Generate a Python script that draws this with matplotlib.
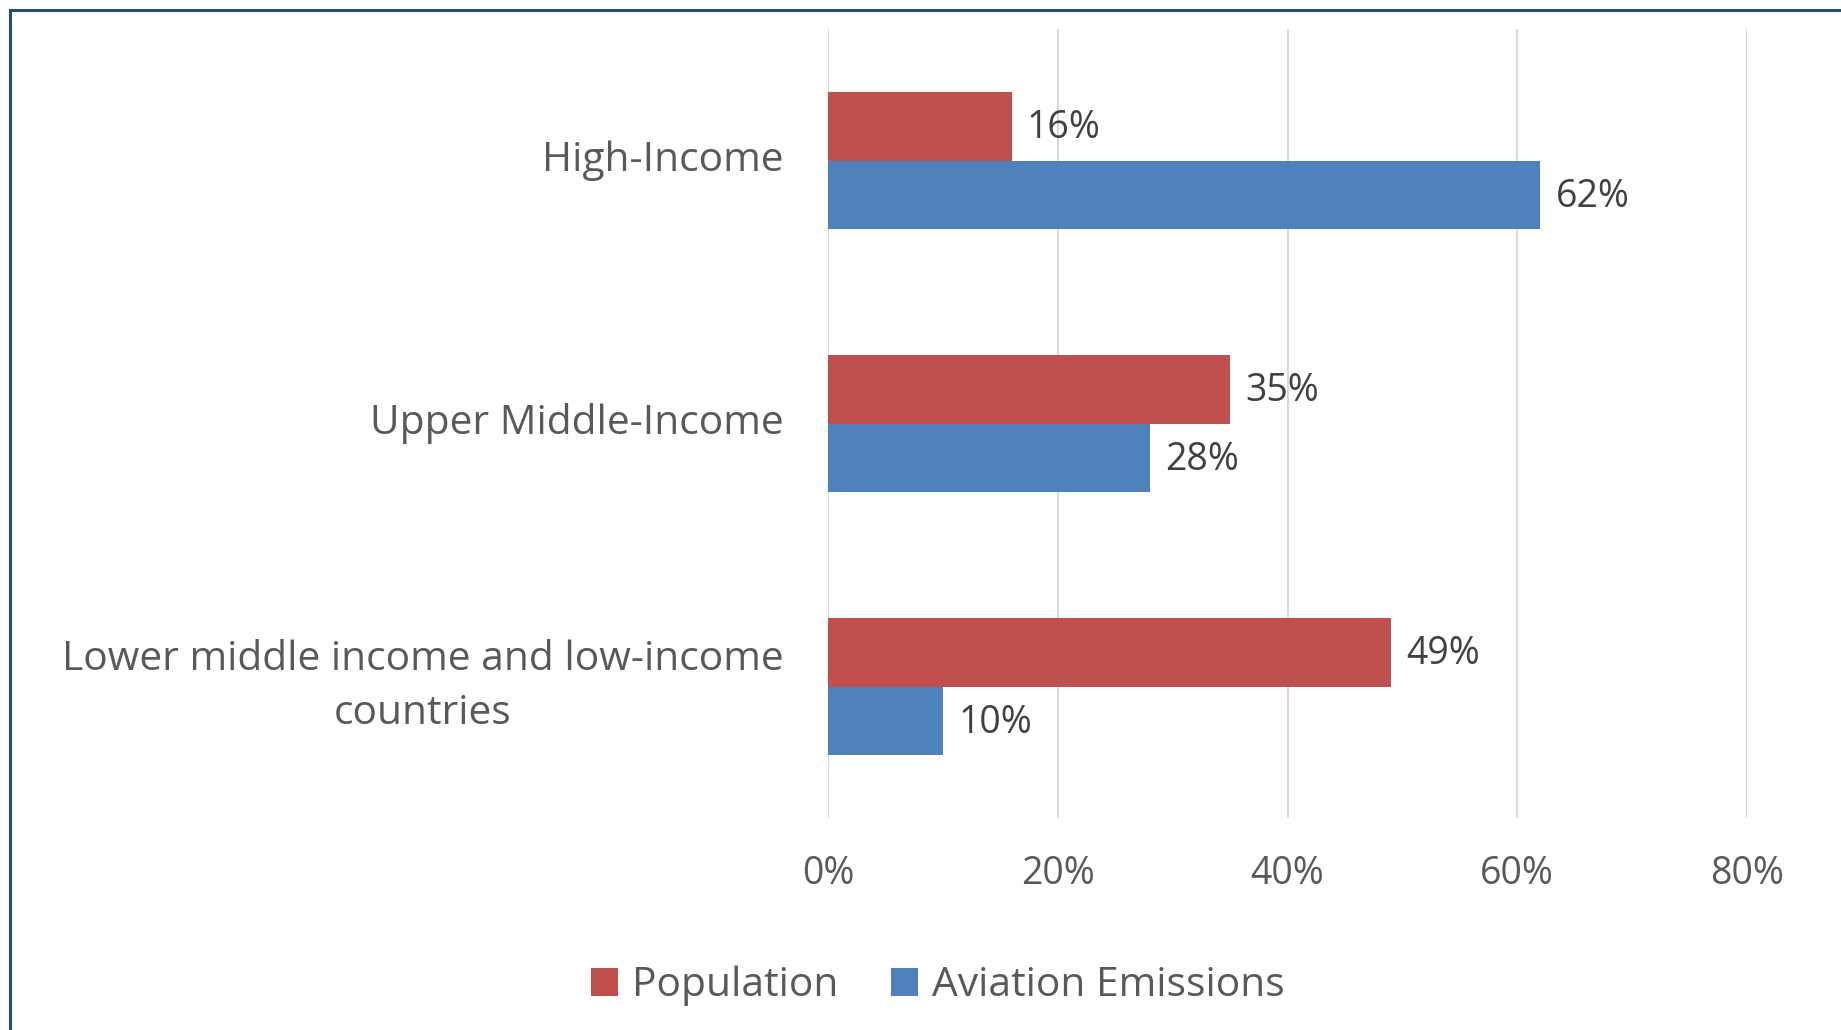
import matplotlib
matplotlib.use("Agg")
import matplotlib.pyplot as plt
from matplotlib.patches import Rectangle

plt.rcParams['font.family'] = ['Open Sans', 'DejaVu Sans']

categories = ["High-Income", "Upper Middle-Income",
              "Lower middle income and low-income\ncountries"]
population = [16, 35, 49]
aviation = [62, 28, 10]
series_names = ["Population", "Aviation Emissions"]
xticks = [0, 20, 40, 60, 80]
xtick_labels = ["0%", "20%", "40%", "60%", "80%"]

RED = "#C0504D"
BLUE = "#4F81BD"
TXT = "#595959"
LBL = "#404040"
GRID = "#D9D9D9"
FS_CAT = 29.3
FS_NUM = 27

fig = plt.figure(figsize=(18.41, 10.30), dpi=100)
ax = fig.add_axes([828 / 1841, 212 / 1030, 919 / 1841, 789 / 1030])

ypos = list(range(len(categories)))
h = 0.26
b1 = ax.barh([y - h / 2 for y in ypos], population, height=h, color=RED,
             label=series_names[0], zorder=3)
b2 = ax.barh([y + h / 2 for y in ypos], aviation, height=h, color=BLUE,
             label=series_names[1], zorder=3)

for bars, vals in ((b1, population), (b2, aviation)):
    for rect, v in zip(bars, vals):
        ax.annotate(f"{v}%", (rect.get_width(), rect.get_y() + rect.get_height() / 2),
                    xytext=(11, -1.5), textcoords="offset points",
                    va="center", ha="left", fontsize=FS_NUM, color=LBL)

ax.set_xlim(0, 80)
ax.set_ylim(2.5, -0.5)
ax.set_xticks(xticks)
ax.set_xticklabels(xtick_labels, fontsize=FS_NUM, color=TXT)
ax.set_yticks(ypos)
ax.set_yticklabels(categories, fontsize=FS_CAT, color=TXT)
for lab in ax.get_yticklabels():
    lab.set_multialignment("center")
    lab.set_linespacing(1.45)
    lab.set_verticalalignment("center")
ax.tick_params(axis="x", length=0, pad=27)
ax.tick_params(axis="y", length=0, pad=32)
for s in ax.spines.values():
    s.set_visible(False)
ax.grid(axis="x", color=GRID, linewidth=1.5, zorder=0)
ax.set_axisbelow(True)

leg = fig.legend(handles=[b1, b2], loc="center", bbox_to_anchor=(938 / 1841, 44 / 1030),
                 ncol=2, frameon=False, fontsize=FS_CAT, handlelength=0.65, handleheight=0.65,
                 handletextpad=0.35, columnspacing=1.3, labelcolor=TXT)

# outer frame of the chart area
fig.patches.append(Rectangle((10 / 1841, -0.1), 1.2, (1030 - 10) / 1030 + 0.1,
                             transform=fig.transFigure, fill=False,
                             edgecolor="#1F4E79", linewidth=2.2))

fig.savefig("out.png", dpi=100)
